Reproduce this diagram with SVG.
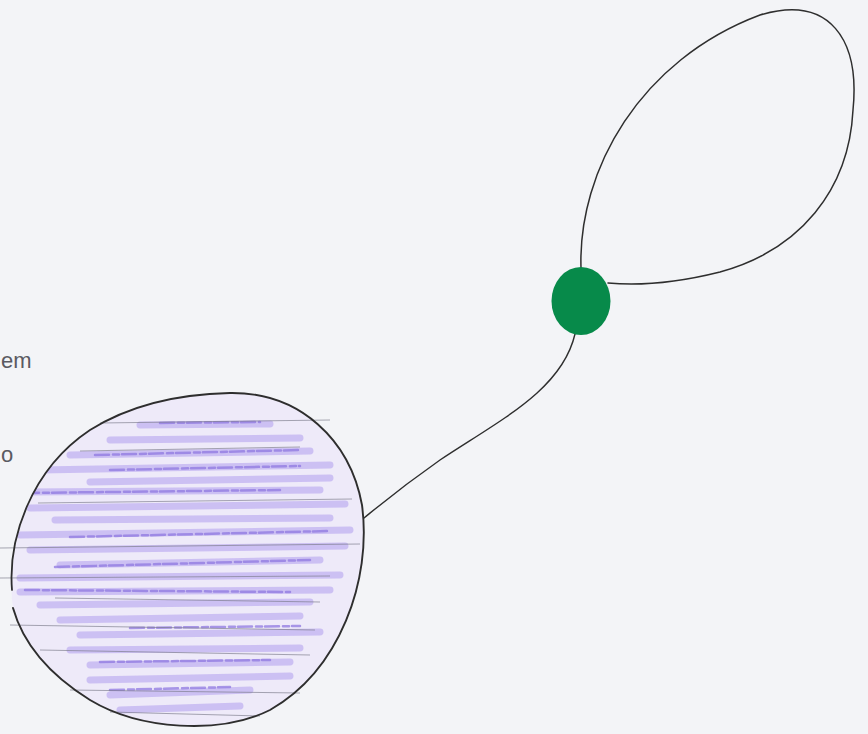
<svg xmlns="http://www.w3.org/2000/svg" width="868" height="734" viewBox="0 0 868 734">
<style>
.pencil{fill:none;stroke:#2e2e2e;stroke-linecap:round;stroke-linejoin:round}
.hatch{fill:none;stroke:#b09dee;stroke-linecap:round;opacity:0.55}
.graph{fill:none;stroke:#7a7a88;stroke-width:1;opacity:0.65}
.lbl{font-family:"Liberation Sans",Arial,sans-serif;font-size:22px;fill:#5a5a62}
</style>
<defs>
<clipPath id="bodyClip">
<path d="M230,393 C300,392 350,440 362,505 C372,580 340,670 270,710 C220,735 140,730 90,700 C40,670 15,630 12,600 C8,540 30,470 90,430 C130,405 180,394 230,393 Z"/>
</clipPath>
</defs>
<rect width="868" height="734" fill="#f3f4f7"/>
<text class="lbl" x="1" y="368">em</text>
<text class="lbl" x="1" y="462">o</text>
<g id="connectors">
<path class="pencil" stroke-width="1.4" d="M575,334 C562,390 500,420 440,460 C400,488 380,505 364,518"/>
<path class="pencil" stroke-width="1.5" d="M581,268 C578,170 640,60 760,15 C830,-6 860,40 853,110 C849,190 800,250 720,272 C680,282 640,286 608,283"/>
</g>
<g id="node-body">
<g clip-path="url(#bodyClip)">
<rect x="0" y="390" width="370" height="344" fill="#ebe5fb" opacity="0.65"/>
<path class="hatch" stroke-width="7" d="M140,425 L270,424 M110,440 L300,438 M70,455 L310,451 M40,470 L330,465 M90,482 L330,478 M20,492 L320,490 M30,508 L345,504 M55,520 L330,518 M20,535 L350,530 M30,550 L345,546 M60,565 L320,560 M20,578 L340,575 M20,592 L330,590 M40,605 L310,602 M60,620 L300,616 M80,635 L320,632 M70,650 L300,648 M90,665 L290,662 M90,680 L290,676 M110,695 L250,690 M120,710 L240,706"/>
<path class="hatch" stroke-width="2.5" style="opacity:0.75;stroke:#8f78e0" stroke-dasharray="14 4 6 3" d="M160,423 L260,422 M95,455 L300,450 M110,470 L300,466 M25,493 L280,490 M70,537 L330,531 M55,567 L310,560 M25,590 L290,592 M130,628 L300,626 M100,662 L270,660 M110,690 L230,687"/>
</g>
<path class="graph" d="M100,423 L330,420 M80,451 L300,447 M38,503 L352,499 M0,548 L360,544 M0,578 L330,576 M55,598 L320,602 M10,625 L315,630 M40,650 L310,655 M70,690 L300,693 M110,712 L260,716"/>
<path class="pencil" stroke-width="1.9" d="M230,393 C300,392 350,440 362,505 C372,580 340,670 270,710 C220,735 140,730 90,700 C45,672 22,640 13,608"/>
<path class="pencil" stroke-width="1.8" d="M12,590 C8,540 30,470 90,430 C130,405 180,394 230,393"/>
</g>
<g id="node-dot">
<ellipse cx="581" cy="301" rx="29.5" ry="34" fill="#078a4a"/>
</g>
</svg>
